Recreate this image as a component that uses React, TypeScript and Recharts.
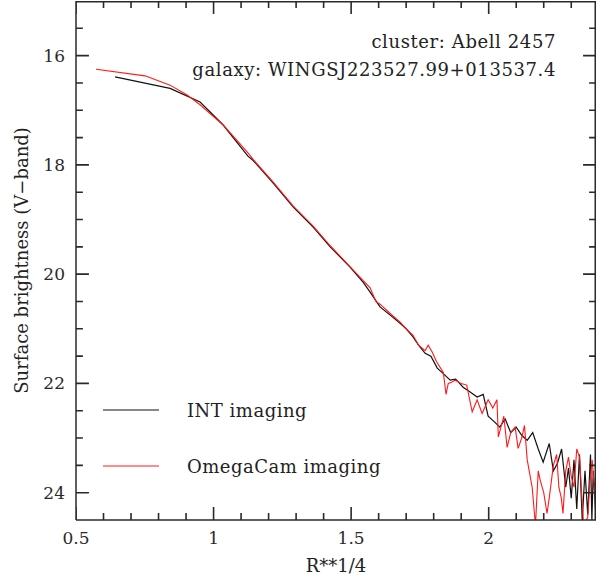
import { LineChart, Line, XAxis, YAxis, Legend, Label } from "recharts"

// INT imaging profile (R**1/4 vs V-band surface brightness)
const intR = [
  0.642, 0.842, 0.951, 1.035, 1.125, 1.144, 1.216, 1.289, 1.362, 1.424, 1.496, 1.544, 1.569, 1.605,
  1.642, 1.678, 1.7, 1.725, 1.745, 1.769, 1.79, 1.813, 1.835, 1.86, 1.88, 1.907, 1.93, 1.958, 1.98,
  1.998, 2.02, 2.04, 2.06, 2.08, 2.1, 2.12, 2.14, 2.16, 2.18, 2.198, 2.22, 2.235, 2.25, 2.265, 2.28,
  2.29, 2.3, 2.31, 2.32, 2.33, 2.34, 2.35, 2.36, 2.37, 2.375, 2.38, 2.39,
]
const intMu = [
  16.39, 16.6, 16.85, 17.27, 17.84, 17.92, 18.33, 18.77, 19.14, 19.5, 19.87, 20.15, 20.33, 20.6,
  20.75, 20.9, 21.0, 21.15, 21.3, 21.45, 21.5, 21.72, 21.82, 21.94, 21.92, 22.07, 22.15, 22.25, 22.2,
  22.6, 22.7, 22.8, 22.65, 22.9, 22.8, 22.95, 23.04, 22.9, 23.2, 23.44, 23.1, 23.6, 23.46, 23.2, 23.9,
  23.55, 24.1, 23.4, 24.3, 23.3, 24.5, 23.6, 24.4, 23.3, 24.5, 23.6, 24.45,
]

// OmegaCam imaging profile
const omegaR = [
  0.573, 0.751, 0.842, 0.904, 0.951, 1.035, 1.085, 1.125, 1.144, 1.216, 1.289, 1.362, 1.424, 1.496,
  1.544, 1.569, 1.59, 1.605, 1.642, 1.678, 1.7, 1.725, 1.745, 1.769, 1.78, 1.795, 1.81, 1.835, 1.845,
  1.853, 1.865, 1.878, 1.9, 1.92, 1.94, 1.958, 1.976, 1.998, 2.015, 2.03, 2.035, 2.055, 2.067, 2.08,
  2.096, 2.107, 2.12, 2.13, 2.14, 2.158, 2.17, 2.18, 2.187, 2.2, 2.212, 2.22, 2.235, 2.247, 2.255,
  2.264, 2.27, 2.28, 2.29, 2.3, 2.31, 2.32, 2.33, 2.345, 2.36, 2.368, 2.376, 2.387, 2.39,
]
const omegaMu = [
  16.25, 16.37, 16.54, 16.72, 16.9, 17.27, 17.55, 17.78, 17.9, 18.31, 18.75, 19.12, 19.48, 19.86,
  20.12, 20.25, 20.5, 20.55, 20.72, 20.88, 21.0, 21.12, 21.3, 21.4, 21.3, 21.43, 21.6, 21.8, 22.2,
  22.0, 21.98, 21.94, 22.0, 22.03, 22.52, 22.3, 22.55, 22.3, 22.45, 22.3, 22.98, 22.6, 23.17, 22.9,
  22.8, 23.19, 23.0, 22.77, 23.4, 23.9, 24.6, 23.6, 23.77, 24.0, 24.38, 24.1, 23.5, 23.3, 23.9,
  24.1, 24.38, 23.6, 23.35, 23.7, 23.9, 23.2, 23.35, 24.6, 24.45, 23.8, 23.4, 24.1, 23.3,
]

const xMajor = [0.5, 1, 1.5, 2]
const xMinor = [0.6, 0.7, 0.8, 0.9, 1.1, 1.2, 1.3, 1.4, 1.6, 1.7, 1.8, 1.9, 2.1, 2.2, 2.3]
const yMajor = [16, 18, 20, 22, 24]
const yMinor = [15.5, 16.5, 17, 17.5, 18.5, 19, 19.5, 20.5, 21, 21.5, 22.5, 23, 23.5]

const intData = intR.map((r, i) => ({ r, mu: intMu[i] }))
const omegaData = omegaR.map((r, i) => ({ r, mu: omegaMu[i] }))

const FONT = "'DejaVu Serif', serif"
const INK = "#2a2a2a"
const X0 = 0.5
const X1 = 2.39
const Y0 = 15
const Y1 = 24.5

// tick mark lengths in data units (~13px major, ~7px minor)
const TX_MAJ = 0.047
const TX_MIN = 0.025
const TY_MAJ = 0.238
const TY_MIN = 0.128

// top and right sides of the box
const frameData = [
  { r: X0, mu: Y0 },
  { r: X1, mu: Y0 },
  { r: X1, mu: Y1 },
]

// inward tick marks on all four sides, short segments split by null gaps
const tickData: { r: number; mu: number | null }[] = []
const seg = (ra: number, ma: number, rb: number, mb: number) => {
  tickData.push({ r: ra, mu: ma }, { r: rb, mu: mb }, { r: rb, mu: null })
}
xMajor.forEach((v) => {
  seg(v, Y1, v, Y1 - TY_MAJ)
  seg(v, Y0, v, Y0 + TY_MAJ)
})
xMinor.forEach((v) => {
  seg(v, Y1, v, Y1 - TY_MIN)
  seg(v, Y0, v, Y0 + TY_MIN)
})
yMajor.forEach((v) => {
  seg(X0, v, X0 + TX_MAJ, v)
  seg(X1, v, X1 - TX_MAJ, v)
})
yMinor.forEach((v) => {
  seg(X0, v, X0 + TX_MIN, v)
  seg(X1, v, X1 - TX_MIN, v)
})

function XLabel({ x, y, payload }: any) {
  return (
    <text x={x} y={y} textAnchor="middle" dominantBaseline="central" fontFamily={FONT} fontSize={17} fill={INK}>
      {String(payload.value)}
    </text>
  )
}

function YLabel({ x, y, payload }: any) {
  return (
    <text x={x} y={y} textAnchor="end" dominantBaseline="central" fontFamily={FONT} fontSize={17} fill={INK}>
      {String(payload.value)}
    </text>
  )
}

const SHOWN = ["INT imaging", "OmegaCam imaging"]

function LegendBox({ payload }: any) {
  const items = (payload || []).filter((e: any) => SHOWN.includes(e.value))
  return (
    <div style={{ fontFamily: FONT, fontSize: 18, color: "#222", letterSpacing: 0.5 }}>
      {items.map((e: any) => (
        <div key={e.value} style={{ display: "flex", alignItems: "center", height: 56 }}>
          <svg width={56} height={4} style={{ display: "block" }}>
            <line x1={0} y1={2} x2={56} y2={2} stroke={e.color} strokeWidth={1} />
          </svg>
          <span style={{ marginLeft: 28 }}>{e.value}</span>
        </div>
      ))}
    </div>
  )
}

const noteStyle: React.CSSProperties = {
  position: "absolute",
  right: 56,
  fontFamily: FONT,
  fontSize: 18,
  letterSpacing: 0.6,
  color: "#222",
  whiteSpace: "nowrap",
}

export default function App() {
  return (
    <div style={{ position: "absolute", left: 0, top: 0, width: 612, height: 578, background: "#fff" }}>
      <LineChart width={612} height={578} margin={{ top: 1, right: 16, bottom: 0, left: 0 }}>
        <XAxis
          dataKey="r"
          type="number"
          domain={[X0, X1]}
          allowDataOverflow
          ticks={xMajor}
          interval={0}
          height={58}
          tickSize={0}
          tickMargin={18}
          tickLine={false}
          axisLine={{ stroke: INK, strokeWidth: 1.5 }}
          tick={XLabel}
        >
          <Label value="R**1/4" position="insideBottom" offset={6} style={{ fontFamily: FONT, fontSize: 18, fill: "#222" }} />
        </XAxis>
        <YAxis
          type="number"
          domain={[Y0, Y1]}
          reversed
          allowDataOverflow
          ticks={yMajor}
          interval={0}
          width={76}
          tickSize={0}
          tickMargin={11}
          tickLine={false}
          axisLine={{ stroke: INK, strokeWidth: 1.5 }}
          tick={YLabel}
        >
          <Label
            value="Surface brightness (V−band)"
            angle={-90}
            position="insideLeft"
            offset={22}
            style={{ textAnchor: "middle", fontFamily: FONT, fontSize: 18, fill: "#222" }}
          />
        </YAxis>
        <Legend
          layout="vertical"
          align="center"
          verticalAlign="middle"
          content={LegendBox}
          wrapperStyle={{ left: 103, top: 382, width: 320 }}
        />
        <Line
          name="INT imaging"
          data={intData}
          dataKey="mu"
          type="linear"
          stroke="#111"
          strokeWidth={1.2}
          dot={false}
          isAnimationActive={false}
        />
        <Line
          name="OmegaCam imaging"
          data={omegaData}
          dataKey="mu"
          type="linear"
          stroke="#ff1a1a"
          strokeWidth={1.1}
          dot={false}
          isAnimationActive={false}
        />
        <Line
          name="frame"
          data={frameData}
          dataKey="mu"
          type="linear"
          stroke={INK}
          strokeWidth={3}
          dot={false}
          isAnimationActive={false}
        />
        <Line
          name="ticks"
          data={tickData}
          dataKey="mu"
          type="linear"
          stroke={INK}
          strokeWidth={1.6}
          dot={false}
          isAnimationActive={false}
        />
      </LineChart>
      <div style={{ ...noteStyle, top: 31 }}>cluster: Abell 2457</div>
      <div style={{ ...noteStyle, top: 59 }}>galaxy: WINGSJ223527.99+013537.4</div>
    </div>
  )
}
